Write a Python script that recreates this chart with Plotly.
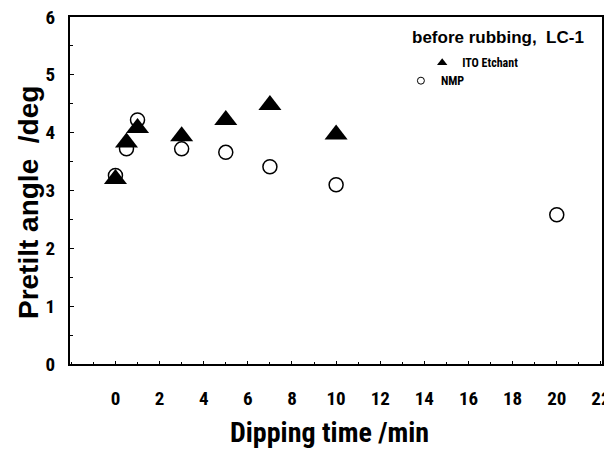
import plotly.graph_objects as go

# Data
ito_x = [0, 0.5, 1, 3, 5, 7, 10]
ito_y = [3.20, 3.83, 4.08, 3.94, 4.22, 4.48, 3.97]
nmp_x = [0, 0.5, 1, 3, 5, 7, 10, 20]
nmp_y = [3.26, 3.72, 4.22, 3.72, 3.66, 3.41, 3.10, 2.58]
x_ticks = list(range(0, 23, 2))
y_ticks = [0, 1, 2, 3, 4, 5, 6]

NARROW = "Roboto Condensed, Open Sans Condensed, sans-serif"
BOLD = "Liberation Sans, Arial, sans-serif"

fig = go.Figure()
fig.add_trace(go.Scatter(x=ito_x, y=ito_y, mode="markers", showlegend=False,
                         marker=dict(symbol="triangle-up", size=20, color="black",
                                     line=dict(width=0))))
fig.add_trace(go.Scatter(x=nmp_x, y=nmp_y, mode="markers", showlegend=False,
                         marker=dict(symbol="circle-open", size=14, color="black",
                                     line=dict(width=1.5, color="black"))))
# legend entries
fig.add_trace(go.Scatter(x=[None], y=[None], mode="markers", name="ITO Etchant",
                         legend="legend",
                         marker=dict(symbol="triangle-up", size=9, color="black")))
fig.add_trace(go.Scatter(x=[None], y=[None], mode="markers", name="NMP",
                         legend="legend2",
                         marker=dict(symbol="circle-open", size=7, color="black",
                                     line=dict(width=1, color="black"))))

leg_common = dict(xanchor="left", yanchor="middle", bgcolor="rgba(0,0,0,0)",
                  borderwidth=0, itemwidth=30,
                  font=dict(family=NARROW, size=12, color="black", weight="bold"))

# page body has an 8px margin, so the figure is drawn 8px smaller
fig.update_layout(
    width=604, height=442,
    margin=dict(l=62, r=10, t=9, b=86),
    paper_bgcolor="white", plot_bgcolor="white",
    showlegend=True,
    legend=dict(x=0.662, y=(363.5 - 63) / 346, **leg_common),
    legend2=dict(x=0.622, y=(363.5 - 81) / 346, **leg_common),
    xaxis=dict(range=[-2.06, 22.05], tickvals=x_ticks, ticktext=[str(v) for v in x_ticks],
               automargin=False, ticklabeloverflow="allow",
               showgrid=False, zeroline=False, showline=True, linecolor="black",
               linewidth=2, mirror=True, ticks="inside", ticklen=3, tickwidth=1,
               tickcolor="black", ticklabelstandoff=16,
               minor=dict(dtick=1, ticks="inside", ticklen=2, tickcolor="black"),
               tickfont=dict(family=NARROW, size=19, color="black", weight="bold")),
    yaxis=dict(range=[0, 6], tickvals=y_ticks, ticktext=[str(v) for v in y_ticks],
               automargin=False, ticklabeloverflow="allow",
               showgrid=False, zeroline=False, showline=True, linecolor="black",
               linewidth=2, mirror=True, ticks="inside", ticklen=4, tickwidth=1,
               tickcolor="black", ticklabelstandoff=9,
               minor=dict(dtick=0.5, ticks="inside", ticklen=3, tickcolor="black"),
               tickfont=dict(family=NARROW, size=19, color="black", weight="bold")),
    annotations=[
        dict(text="<b>Pretilt angle&nbsp; /deg</b>", xref="paper", yref="paper",
             x=(28 - 70) / 532, y=(363.5 - 203) / 346, xanchor="center", yanchor="middle",
             textangle=-90,
             showarrow=False, font=dict(family=BOLD, size=28, color="black")),
        dict(text="<b>Dipping time /min</b>", xref="paper", yref="paper",
             x=(329 - 70) / 532, y=(363.5 - 432) / 346, xanchor="center", yanchor="middle",
             showarrow=False, font=dict(family=NARROW, size=28, color="black")),
        dict(text="<b>before rubbing,  LC-1</b>", xref="paper", yref="paper",
             x=(586 - 70) / 532, y=(363.5 - 38) / 346, xanchor="right", yanchor="middle",
             showarrow=False, font=dict(family=BOLD, size=17, color="black")),
    ],
)

fig.write_html("out.html")
